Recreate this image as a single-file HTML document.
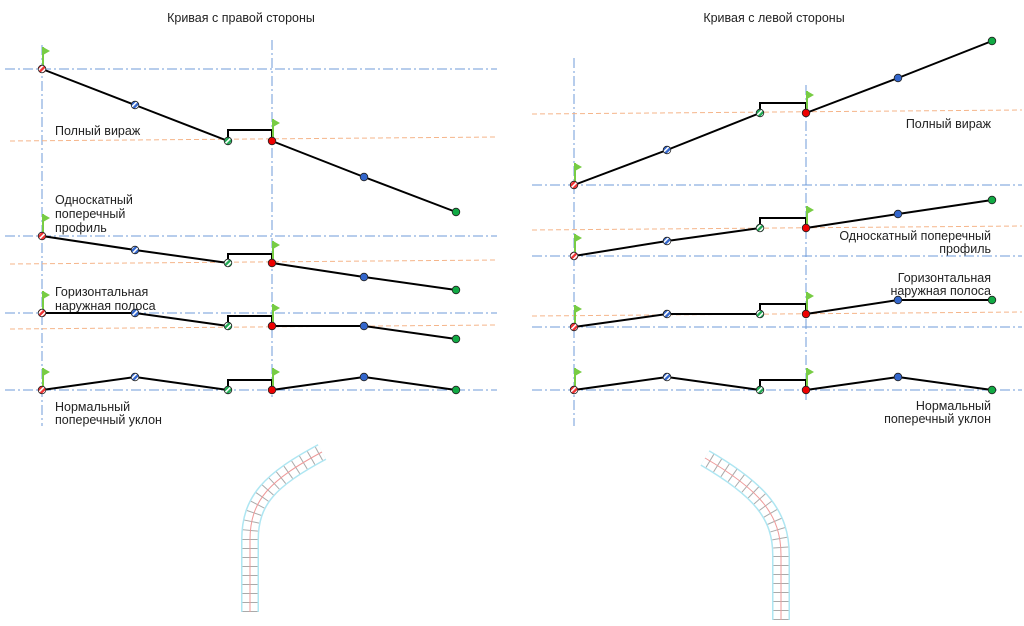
<!DOCTYPE html>
<html><head><meta charset="utf-8"><style>
html,body{margin:0;padding:0;background:#fff;}
svg{display:block;font-family:"Liberation Sans","DejaVu Sans",sans-serif;}
</style></head><body>
<svg id="s" width="1024" height="626" viewBox="0 0 1024 626" xmlns="http://www.w3.org/2000/svg">
<defs>
<pattern id="hr" width="4" height="4" patternUnits="userSpaceOnUse" patternTransform="rotate(45)"><rect width="4" height="4" fill="#e33"/><rect width="1.6" height="4" fill="#fff"/></pattern>
<pattern id="hb" width="4" height="4" patternUnits="userSpaceOnUse" patternTransform="rotate(45)"><rect width="4" height="4" fill="#36c"/><rect width="1.6" height="4" fill="#fff"/></pattern>
<pattern id="hg" width="4" height="4" patternUnits="userSpaceOnUse" patternTransform="rotate(45)"><rect width="4" height="4" fill="#2a5"/><rect width="1.6" height="4" fill="#fff"/></pattern>
</defs>
<g font-size="12.5" fill="#222">
<text x="241" y="22" text-anchor="middle">Кривая с правой стороны</text>
<text x="774" y="22" text-anchor="middle">Кривая с левой стороны</text>
<text x="55" y="135">Полный вираж</text>
<text x="55" y="204">Односкатный</text>
<text x="55" y="218">поперечный</text>
<text x="55" y="232">профиль</text>
<text x="55" y="296">Горизонтальная</text>
<text x="55" y="310">наружная полоса</text>
<text x="55" y="411">Нормальный</text>
<text x="55" y="424">поперечный уклон</text>
<text x="991" y="128" text-anchor="end">Полный вираж</text>
<text x="991" y="240" text-anchor="end">Односкатный поперечный</text>
<text x="991" y="253" text-anchor="end">профиль</text>
<text x="991" y="282" text-anchor="end">Горизонтальная</text>
<text x="991" y="295" text-anchor="end">наружная полоса</text>
<text x="991" y="410" text-anchor="end">Нормальный</text>
<text x="991" y="423" text-anchor="end">поперечный уклон</text>
</g>
<g id="g"></g>
<g fill="none">
<path d="M250,612 L250,540 C250,500 270,480 322,452" stroke="#aee6f2" stroke-width="18"/>
<path d="M250,612 L250,540 C250,500 270,480 322,452" stroke="#fff" stroke-width="15"/>
<path d="M250,612 L250,540 C250,500 270,480 322,452" stroke="#aaa" stroke-width="15" stroke-dasharray="1 8"/>
<path d="M250,612 L250,540 C250,500 270,480 322,452" stroke="#e99" stroke-width="1"/>
<path d="M781,620 L781,555 C781,515 760,490 705,458" stroke="#aee6f2" stroke-width="18"/>
<path d="M781,620 L781,555 C781,515 760,490 705,458" stroke="#fff" stroke-width="15"/>
<path d="M781,620 L781,555 C781,515 760,490 705,458" stroke="#aaa" stroke-width="15" stroke-dasharray="1 8"/>
<path d="M781,620 L781,555 C781,515 760,490 705,458" stroke="#e99" stroke-width="1"/>
</g>
</svg>
<script>
var g=document.getElementById('g'),h='';
function L(x1,y1,x2,y2,st){h+='<line x1="'+x1+'" y1="'+y1+'" x2="'+x2+'" y2="'+y2+'" '+st+'/>';}
var BL='stroke="#6f9bd8" stroke-width="1" stroke-dasharray="10 3 2 3"';
var OR='stroke="#f5b58a" stroke-width="1" stroke-dasharray="5 3"';
var K='stroke="#000" stroke-width="2"';
L(42,45,42,426,BL);L(272,40,272,400,BL);L(574,58,574,426,BL);L(806,85,806,400,BL);
var fills=['url(#hr)','url(#hb)','url(#hg)','#e00','#36c','#1a4'];
var rows=[
 {x:[42,135,228,272,364,456],y:[69,105,141,141,177,212],b:130,bl:[69],o:[10,141,497,137],lx:[5,497]},
 {x:[42,135,228,272,364,456],y:[236,250,263,263,277,290],b:254,bl:[236],o:[10,264,497,260],lx:[5,497]},
 {x:[42,135,228,272,364,456],y:[313,313,326,326,326,339],b:316,bl:[313],o:[10,329,497,325],lx:[5,497]},
 {x:[42,135,228,272,364,456],y:[390,377,390,390,377,390],b:380,bl:[390],o:null,lx:[5,497]},
 {x:[574,667,760,806,898,992],y:[185,150,113,113,78,41],b:103,bl:[185],o:[532,114,1022,110],lx:[532,1022]},
 {x:[574,667,760,806,898,992],y:[256,241,228,228,214,200],b:218,bl:[256],o:[532,230,1022,226],lx:[532,1022]},
 {x:[574,667,760,806,898,992],y:[327,314,314,314,300,300],b:304,bl:[327],o:[532,316,1022,312],lx:[532,1022]},
 {x:[574,667,760,806,898,992],y:[390,377,390,390,377,390],b:380,bl:[390],o:null,lx:[532,1022]}];
rows.forEach(function(r){
 r.bl.forEach(function(y){L(r.lx[0],y,r.lx[1],y,BL);});
 if(r.o)L(r.o[0],r.o[1],r.o[2],r.o[3],OR);
 L(r.x[0],r.y[0],r.x[1],r.y[1],K);L(r.x[1],r.y[1],r.x[2],r.y[2],K);
 L(r.x[3],r.y[3],r.x[4],r.y[4],K);L(r.x[4],r.y[4],r.x[5],r.y[5],K);
 h+='<polyline points="'+r.x[2]+','+r.y[2]+' '+r.x[2]+','+r.b+' '+r.x[3]+','+r.b+' '+r.x[3]+','+r.y[3]+'" fill="none" stroke="#000" stroke-width="2"/>';
 [0,3].forEach(function(i){var x=r.x[i],y=r.y[i];
  h+='<line x1="'+(x+1)+'" y1="'+(y-4)+'" x2="'+(x+1)+'" y2="'+(y-22)+'" stroke="#7c4" stroke-width="2"/>';
  h+='<polygon points="'+(x+1)+','+(y-22)+' '+(x+8)+','+(y-18)+' '+(x+1)+','+(y-14)+'" fill="#7c4"/>';});
 for(var i=0;i<6;i++)h+='<circle cx="'+r.x[i]+'" cy="'+r.y[i]+'" r="3.8" fill="'+fills[i]+'" stroke="#222" stroke-width="0.8"/>';
});
g.innerHTML=h;
</script>
</body></html>
